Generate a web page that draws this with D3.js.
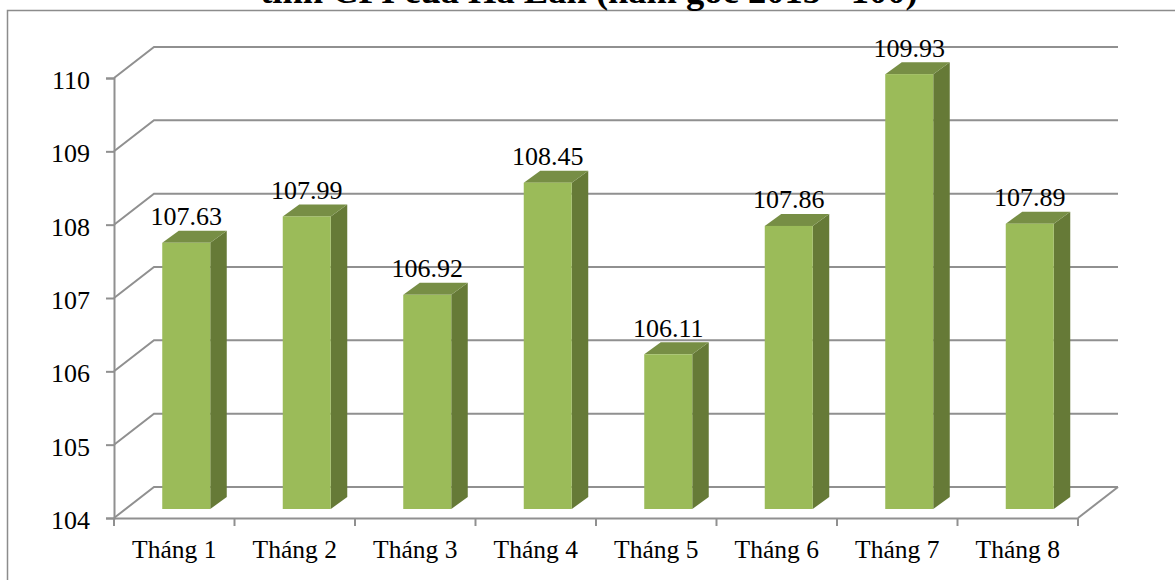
<!DOCTYPE html>
<html>
<head>
<meta charset="utf-8">
<script src="https://cdn.jsdelivr.net/npm/d3@7/dist/d3.min.js"></script>
<style>
body { margin: 0; background: #fff; }
svg { display: block; }
text { font-family: "Liberation Serif", serif; fill: #000; }
.wall { fill: none; stroke: #909090; stroke-width: 2px; }
</style>
</head>
<body>
<script>
//monthly CPI values, one bar per month
var categories = ["Tháng 1", "Tháng 2", "Tháng 3", "Tháng 4", "Tháng 5", "Tháng 6", "Tháng 7", "Tháng 8"];
var cpiValues = [107.63, 107.99, 106.92, 108.45, 106.11, 107.86, 109.93, 107.89];
var yTicks = [104, 105, 106, 107, 108, 109, 110];
var titleText = "tính CPI của Hà Lan (năm gốc 2015 =100)";

var width = 1175,
    height = 580;

//depth of the 3d box and of each bar
var depthX = 40,
    depthY = -31,
    barDepthX = 16.5,
    barDepthY = -12;

var svg = d3.select("body")
    .append("svg")
    .attr("width", width)
    .attr("height", height);

//outer chart frame runs off the page on the right and at the bottom
svg.append("path")
    .attr("d", "M7.5,581V10.5H1176")
    .attr("fill", "none")
    .attr("stroke", "#8c8c8c")
    .attr("stroke-width", 1.5);

//title sits against the top of the page, only its lower part shows
svg.append("text")
    .attr("x", 589)
    .attr("y", 3)
    .attr("text-anchor", "middle")
    .attr("font-weight", "bold")
    .attr("font-size", 36.5)
    .text(titleText);

var x = d3.scaleBand()
    .domain(categories)
    .range([114, 1078]);

var y = d3.scaleLinear()
    .domain([104, 110])
    .range([518, 78]);

var barWidth = 48,
    barBase = 509;

//bar heights use the same scale as the axis, shifted onto the floor
var barY = d3.scaleLinear()
    .domain([104, 110])
    .range([barBase, barBase - (y(104) - y(110))]);

//back wall gridlines and the slanted lines on the side wall
var grid = svg.append("g");
yTicks.forEach(function(t){
    grid.append("path")
        .attr("class", "wall")
        .attr("d", "M114," + y(t) + "L" + (114 + depthX) + "," + (y(t) + depthY) + "H" + (1078 + depthX));
});

//floor edge on the right side
grid.append("path")
    .attr("class", "wall")
    .attr("d", "M1078," + y(104) + "L" + (1078 + depthX) + "," + (y(104) + depthY));

//axes, tick labels are drawn by d3
var yAxis = svg.append("g")
    .attr("transform", "translate(114,0)")
    .call(d3.axisLeft(y).tickValues(yTicks).tickSize(8).tickPadding(16).tickFormat(d3.format("d")));

var xAxis = svg.append("g")
    .attr("transform", "translate(0,518)")
    .call(d3.axisBottom(x).tickSize(0).tickPadding(22));

//x ticks sit between the categories
xAxis.selectAll(".sep")
    .data(categories.concat(["end"]))
    .enter()
    .append("line")
    .attr("class", "sep")
    .attr("x1", function(d, i){ return 114 + i * x.step(); })
    .attr("x2", function(d, i){ return 114 + i * x.step(); })
    .attr("y1", 0)
    .attr("y2", 8);

[yAxis, xAxis].forEach(function(axis){
    axis.selectAll("path, line")
        .attr("stroke", "#909090")
        .attr("stroke-width", 2);
    axis.selectAll("text")
        .attr("font-family", "Liberation Serif")
        .attr("fill", "#000");
});
yAxis.selectAll("text").attr("font-size", 26).attr("dy", "0.4em");
xAxis.selectAll("text").attr("font-size", 25.5);

//draw the bars, front face plus side and top faces
var bars = svg.selectAll(".bar")
    .data(cpiValues)
    .enter()
    .append("g")
    .attr("class", "bar");

function left(i){
    return x(categories[i]) + (x.step() - barWidth) / 2 + 12;
}

bars.append("path")
    .attr("fill", "#667a37")
    .attr("d", function(d, i){
        var r = left(i) + barWidth;
        return "M" + r + "," + barBase + "L" + (r + barDepthX) + "," + (barBase + barDepthY) +
            "V" + (barY(d) + barDepthY) + "L" + r + "," + barY(d) + "Z";
    });

bars.append("path")
    .attr("fill", "#778e45")
    .attr("d", function(d, i){
        var l = left(i), t = barY(d);
        return "M" + l + "," + t + "L" + (l + barDepthX) + "," + (t + barDepthY) +
            "H" + (l + barWidth + barDepthX) + "L" + (l + barWidth) + "," + t + "Z";
    });

bars.append("rect")
    .attr("fill", "#9bbb59")
    .attr("x", function(d, i){ return left(i); })
    .attr("y", function(d){ return barY(d); })
    .attr("width", barWidth)
    .attr("height", function(d){ return barBase - barY(d); });

//value labels above each bar
bars.append("text")
    .attr("x", function(d, i){ return left(i) + barWidth / 2; })
    .attr("y", function(d){ return barY(d) + barDepthY - 5.5; })
    .attr("text-anchor", "middle")
    .attr("font-size", 26)
    .text(function(d){ return d3.format(".2f")(d); });
</script>
</body>
</html>
